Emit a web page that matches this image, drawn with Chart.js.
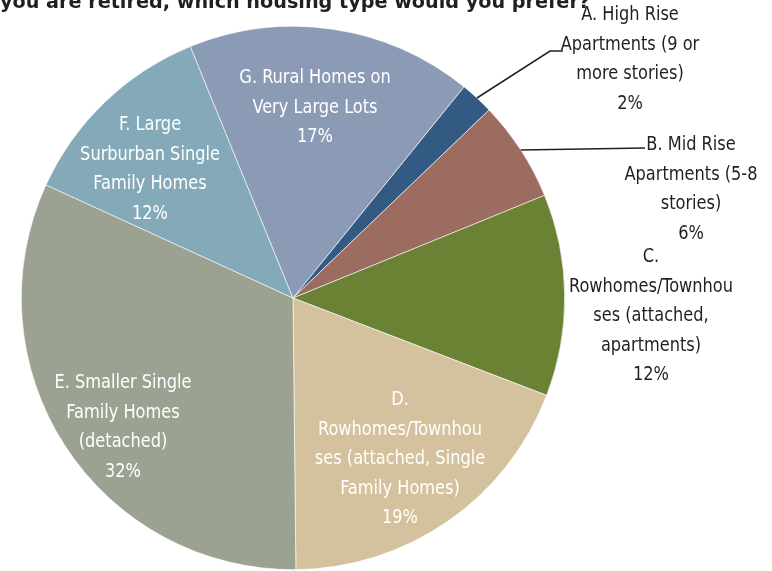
<!DOCTYPE html>
<html>
<head>
<meta charset="utf-8">
<script src="https://cdn.jsdelivr.net/npm/chart.js@4.4.1/dist/chart.umd.min.js"></script>
<style>
  html, body { margin: 0; padding: 0; background: #fff; }
  canvas { display: block; }
</style>
</head>
<body>
<canvas id="grafico" width="772" height="571"></canvas>
<script>
// ==================== Dados ====================
const categorias = [
  ['A. High Rise', 'Apartments (9 or', 'more stories)'],
  ['B. Mid Rise', 'Apartments (5-8', 'stories)'],
  ['C.', 'Rowhomes/Townhou', 'ses (attached,', 'apartments)'],
  ['D.', 'Rowhomes/Townhou', 'ses (attached, Single', 'Family Homes)'],
  ['E. Smaller Single', 'Family Homes', '(detached)'],
  ['F. Large', 'Surburban Single', 'Family Homes'],
  ['G. Rural Homes on', 'Very Large Lots']
];
const percentuais = [2, 6, 12, 19, 32, 12, 17];
const cores = ['#335A83', '#9B6C5F', '#6B8234', '#D4C29E', '#9CA291', '#84A9B9', '#8C9BB5'];
const titulo = 'you are retired, which housing type would you prefer?';

// Posição dos rótulos (centro x, y da primeira linha) e cor do texto
const posRotulos = [
  { x: 630, y: 15, cor: '#231f20', guia: [[550, 51], [563, 51]] },
  { x: 691, y: 145, cor: '#231f20', guia: [[645, 148]] },
  { x: 651, y: 257, cor: '#231f20' },
  { x: 400, y: 400, cor: '#ffffff' },
  { x: 123, y: 383, cor: '#ffffff' },
  { x: 150, y: 125, cor: '#ffffff' },
  { x: 315, y: 78, cor: '#ffffff' }
];
const alturaLinha = 29.5;
const familia = '"DejaVu Sans Condensed", "DejaVu Sans", sans-serif';
const escalaX = 0.9; // fonte estreita

// Texto com compressão horizontal
function textoEstreito(ctx, txt, x, y) {
  ctx.save();
  ctx.translate(x, y);
  ctx.scale(escalaX, 1);
  ctx.fillText(txt, 0, 0);
  ctx.restore();
}

// ==================== Plugin de rótulos ====================
const rotulosPlugin = {
  id: 'rotulos',
  afterDatasetsDraw(chart) {
    const ctx = chart.ctx;
    const arcos = chart.getDatasetMeta(0).data;
    ctx.save();

    // título (parte de cima fica cortada)
    ctx.font = 'bold 20px ' + familia;
    ctx.fillStyle = '#231f20';
    ctx.textAlign = 'left';
    ctx.textBaseline = 'alphabetic';
    const largura = ctx.measureText(titulo).width;
    ctx.save();
    ctx.translate(0, 8);
    ctx.scale(590 / largura, 1);
    ctx.fillText(titulo, 0, 0);
    ctx.restore();

    ctx.font = '20px ' + familia;
    ctx.textAlign = 'center';
    ctx.textBaseline = 'middle';

    arcos.forEach((arco, i) => {
      const p = posRotulos[i];

      // linha guia saindo da borda da fatia
      if (p.guia) {
        const meio = (arco.startAngle + arco.endAngle) / 2;
        const x0 = arco.x + Math.cos(meio) * arco.outerRadius;
        const y0 = arco.y + Math.sin(meio) * arco.outerRadius;
        ctx.beginPath();
        ctx.moveTo(x0, y0);
        p.guia.forEach(pt => ctx.lineTo(pt[0], pt[1]));
        ctx.strokeStyle = '#231f20';
        ctx.lineWidth = 1.5;
        ctx.stroke();
      }

      const linhas = categorias[i].concat([percentuais[i] + '%']);
      ctx.fillStyle = p.cor;
      linhas.forEach((txt, k) => {
        textoEstreito(ctx, txt, p.x, p.y + k * alturaLinha);
      });
    });

    ctx.restore();
  }
};

// ==================== Gráfico ====================
const ctx = document.getElementById('grafico').getContext('2d');
new Chart(ctx, {
  type: 'pie',
  data: {
    labels: categorias.map(c => c.join(' ')),
    datasets: [{
      data: percentuais,
      backgroundColor: cores,
      borderColor: '#ffffff',
      borderWidth: 0.6
    }]
  },
  options: {
    responsive: false,
    animation: false,
    rotation: 39,
    layout: { padding: { left: 21, right: 207, top: 26, bottom: 1 } },
    plugins: {
      legend: { display: false },
      tooltip: { enabled: false }
    }
  },
  plugins: [rotulosPlugin]
});
</script>
</body>
</html>
